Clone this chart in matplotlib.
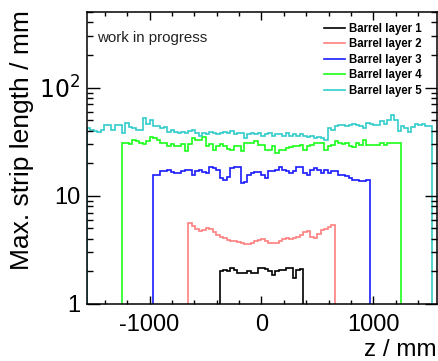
import matplotlib
matplotlib.use('Agg')
import matplotlib.pyplot as plt
from matplotlib.ticker import FixedLocator, MultipleLocator, NullFormatter
import numpy as np

plt.rcParams['font.family'] = ['Liberation Sans', 'DejaVu Sans']

# Binning: 100 bins across the z range (mm)
z_edges = np.linspace(-1560, 1560, 101)

# Max. strip length per z bin (mm); each layer covers bins first..last
layer5_first = 0
layer5 = [42, 41, 40, 39, 41, 45, 45, 41, 45, 45, 38,
          47, 43, 42, 41, 41, 52, 46, 50, 44, 44,
          42, 43, 39, 41, 39, 38, 39, 38, 40, 41,
          38, 36, 38, 37, 39, 38, 37, 38, 39, 38,
          40, 37, 38, 38, 34, 37, 38, 37, 38, 36,
          37, 38, 36, 37, 37, 36, 38, 36, 37, 36,
          37, 36, 35, 36, 34, 35, 34, 33,
          42, 41, 44, 45, 45, 44, 45, 46, 45, 44,
          42, 47, 46, 45, 45, 49, 46, 50, 56, 50,
          40, 44, 42, 39, 43, 46, 45, 46, 44, 44]

layer4_first = 10
layer4 = [31, 31, 30, 33, 32, 31, 30, 32, 35, 34,
          33, 31, 31, 29, 30, 28.6, 29, 30, 25.7, 30,
          34, 33, 33, 35, 28.6, 30, 26.7, 29, 30, 29,
          27, 26.7, 29, 28.6, 25.7, 31, 31, 31, 32, 29.6,
          29.6, 26.7, 26.7, 29, 24.9, 26.7, 26.7, 27.5, 28, 28.6,
          28.6, 29.6, 26.7, 28.6, 29.6, 30.6, 30.6, 30.6, 26.7, 28.6,
          29.6, 31.9, 30.6, 30, 30.6, 29, 28, 30.6, 29.5, 33,
          29.5, 29.5, 29.5, 29.5, 31, 29.5, 31, 31, 30.6, 30.6]

layer3_first = 19
layer3 = [15.6, 15.6, 16.8, 16.8, 17.4, 16.5, 16.2, 16.2, 16.8, 17.4,
          17.4, 15.6, 16.8, 17.4, 16.5, 16.2, 18.6, 18.0, 17.5, 14.5,
          14.1, 15.0, 18.0, 18.6, 18.6, 13.1, 13.5, 15.6, 16.2, 16.5,
          16.5,
          15.5, 14.6, 16.8, 16.8, 17.4, 18.6, 17.5, 16.8, 16.2, 16.8,
          18.6, 18.6, 16.2, 15.6, 17.4, 18.0, 17.4, 16.2, 17.4, 16.2,
          16.8, 16.8, 15.6, 15.6, 15.1, 14.6, 14.1, 14.1, 13.6, 13.6,
          14.1]

layer2_first = 29
layer2 = [5.58, 5.3, 4.9, 4.7, 4.8, 5.0, 4.9, 4.6, 4.35, 4.2,
          4.1, 3.9, 3.85, 3.8, 3.75, 3.65, 3.55, 3.55, 3.65, 3.8,
          3.9, 4.0,
          3.8, 3.64, 3.64, 3.7, 3.8, 3.95, 4.05, 4.0, 4.05, 4.2,
          4.35, 4.6, 4.7, 4.2, 4.1, 4.4, 4.84, 4.9, 5.2, 5.4]

layer1_first = 38
layer1 = [2.0, 2.06, 2.0, 2.14, 2.05, 1.92, 1.92, 1.92, 2.03, 1.95,
          1.92, 2.14, 2.14,
          2.1, 2.0, 1.86, 2.0, 2.06, 2.06, 2.14, 2.14, 1.75, 2.06, 2.1]

layers = [
    ('Barrel layer 1', layer1_first, layer1, 'black'),
    ('Barrel layer 2', layer2_first, layer2, '#ff7f7f'),
    ('Barrel layer 3', layer3_first, layer3, '#1a1aff'),
    ('Barrel layer 4', layer4_first, layer4, '#1aff1a'),
    ('Barrel layer 5', layer5_first, layer5, '#33cccc'),
]

fig = plt.figure(figsize=(4.39, 3.61), dpi=100)
ax = fig.add_axes([87 / 439, 1 - 304 / 361, 350 / 439, 292 / 361])

for name, first, vals, color in layers:
    edges = z_edges[first:first + len(vals) + 1]
    ax.stairs(vals, edges, baseline=1e-3, color=color, lw=1.2, label=name)

ax.set_yscale('log')
ax.set_xlim(-1560, 1570)
ax.set_ylim(1, 500)

ax.xaxis.set_major_locator(FixedLocator([-1000, 0, 1000]))
ax.xaxis.set_minor_locator(MultipleLocator(200))
ax.yaxis.set_major_locator(FixedLocator([1, 10, 100]))
ax.yaxis.set_minor_locator(FixedLocator([v * d for d in (1, 10, 100) for v in range(2, 10)]))
ax.yaxis.set_minor_formatter(NullFormatter())
ax.set_yticklabels(['1', '10', '$10^2$'])
ax.set_xticklabels(['-1000', '0', '1000'])

ax.tick_params(which='both', direction='in', top=True, right=True, width=1.0,
               labelsize=17)
ax.tick_params(axis='x', which='major', length=6, pad=7)
ax.tick_params(axis='x', which='minor', length=3)
ax.tick_params(axis='y', which='major', length=9, pad=5)
ax.tick_params(axis='y', which='minor', length=4.5)
for s in ax.spines.values():
    s.set_linewidth(1.1)

fig.text(22 / 439, 1 - 10 / 361, 'Max. strip length / mm', rotation=90,
         ha='center', va='top', fontsize=19)
fig.text(437 / 439, 1 - 350 / 361, 'z / mm', ha='right', va='center', fontsize=17.5)
fig.text(97 / 439, 1 - 38 / 361, 'work in progress', ha='left', va='center',
         fontsize=10.8, color='#222222')

leg = ax.legend(loc='upper right', bbox_to_anchor=(422 / 439, 1 - 23 / 361),
                bbox_transform=fig.transFigure, frameon=False,
                prop={'size': 8.3, 'weight': 'bold'}, handlelength=1.8,
                handletextpad=0.4, labelspacing=0.3, borderaxespad=0,
                borderpad=0)

fig.savefig('out.png', dpi=100)
